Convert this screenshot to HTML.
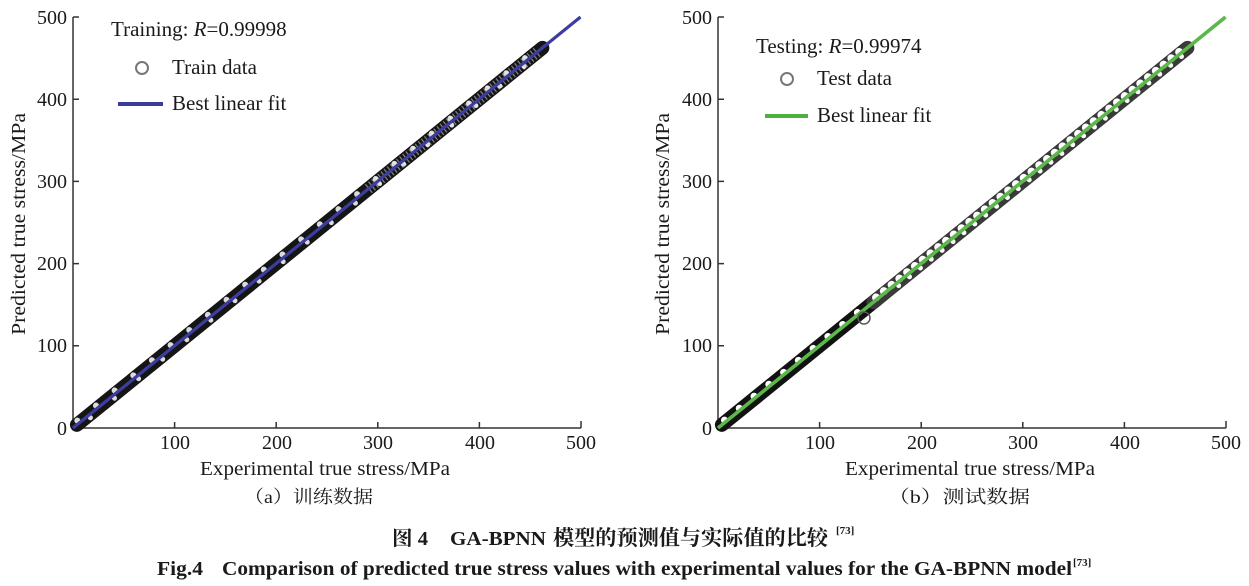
<!DOCTYPE html>
<html><head><meta charset="utf-8"><style>
html,body{margin:0;padding:0;background:#fff;}
svg{display:block;}
text{font-family:"Liberation Serif","Noto Serif CJK SC",serif;fill:#1a1a1a;}
.cj{font-family:"Liberation Serif","Noto Serif CJK SC","Noto Sans CJK SC",serif;}
</style></head><body>
<svg width="1249" height="586" viewBox="0 0 1249 586" xmlns="http://www.w3.org/2000/svg">
<rect width="1249" height="586" fill="#fff"/>

<!-- ============ LEFT PLOT ============ -->
<g stroke="#333" stroke-width="1.5" fill="none">
  <path d="M73,17 V428 H581"/>
  <path d="M73,17 h6 M73,99.2 h6 M73,181.4 h6 M73,263.6 h6 M73,345.8 h6"/>
  <path d="M174.6,428 v-6 M276.2,428 v-6 M377.8,428 v-6 M479.4,428 v-6 M581,428 v-7"/>
</g>
<g font-size="20" text-anchor="end">
  <text x="67" y="24">500</text>
  <text x="67" y="106">400</text>
  <text x="67" y="188">300</text>
  <text x="67" y="270">200</text>
  <text x="67" y="352">100</text>
  <text x="67" y="435">0</text>
</g>
<g font-size="20" text-anchor="middle">
  <text x="175" y="449">100</text>
  <text x="277" y="449">200</text>
  <text x="378" y="449">300</text>
  <text x="480" y="449">400</text>
  <text x="581" y="449">500</text>
  <text x="325" y="475" textLength="250" lengthAdjust="spacingAndGlyphs">Experimental true stress/MPa</text>
</g>
<text x="0" y="0" font-size="20" text-anchor="middle" transform="translate(25,224) rotate(-90)" textLength="222" lengthAdjust="spacingAndGlyphs">Predicted true stress/MPa</text>
<text class="cj" x="244" y="503" font-size="18" textLength="129" lengthAdjust="spacingAndGlyphs">（a）训练数据</text>

<!-- data band left -->
<g transform="translate(73,428) rotate(-39)">
  <line x1="5" y1="0" x2="604" y2="0" stroke="#151515" stroke-width="14" stroke-linecap="round"/>
  <line x1="8" y1="-3" x2="600" y2="-3" stroke="#fff" stroke-width="6" stroke-dasharray="0 24" stroke-linecap="round" opacity="0.85"/>
  <line x1="20" y1="3" x2="600" y2="3" stroke="#fff" stroke-width="5" stroke-dasharray="0 31" stroke-linecap="round" opacity="0.85"/>
  <line x1="380" y1="0" x2="600" y2="0" stroke="#fff" stroke-width="11" stroke-dasharray="1.3 2.7" opacity="0.45"/>
  <line x1="0" y1="0" x2="653" y2="0" stroke="#3d3d9f" stroke-width="3.2"/>
</g>

<!-- legend left -->
<text x="111" y="36" font-size="21">Training: <tspan font-style="italic">R</tspan>=0.99998</text>
<circle cx="142" cy="68" r="6" fill="none" stroke="#777" stroke-width="2"/>
<text x="172" y="74" font-size="21">Train data</text>
<line x1="118" y1="104" x2="163" y2="104" stroke="#3a3a98" stroke-width="4"/>
<text x="172" y="110" font-size="21">Best linear fit</text>

<!-- ============ RIGHT PLOT ============ -->
<g stroke="#333" stroke-width="1.5" fill="none">
  <path d="M718,17 V428 H1226"/>
  <path d="M718,17 h6 M718,99.2 h6 M718,181.4 h6 M718,263.6 h6 M718,345.8 h6"/>
  <path d="M819.6,428 v-6 M921.2,428 v-6 M1022.8,428 v-6 M1124.4,428 v-6 M1226,428 v-7"/>
</g>
<g font-size="20" text-anchor="end">
  <text x="712" y="24">500</text>
  <text x="712" y="106">400</text>
  <text x="712" y="188">300</text>
  <text x="712" y="270">200</text>
  <text x="712" y="352">100</text>
  <text x="712" y="435">0</text>
</g>
<g font-size="20" text-anchor="middle">
  <text x="820" y="449">100</text>
  <text x="922" y="449">200</text>
  <text x="1023" y="449">300</text>
  <text x="1125" y="449">400</text>
  <text x="1226" y="449">500</text>
  <text x="970" y="475" textLength="250" lengthAdjust="spacingAndGlyphs">Experimental true stress/MPa</text>
</g>
<text x="0" y="0" font-size="20" text-anchor="middle" transform="translate(669,224) rotate(-90)" textLength="222" lengthAdjust="spacingAndGlyphs">Predicted true stress/MPa</text>
<text class="cj" x="888" y="503" font-size="18" textLength="142" lengthAdjust="spacingAndGlyphs">（b）测试数据</text>

<!-- data band right -->
<g transform="translate(718,428) rotate(-39)">
  <line x1="5" y1="0" x2="205" y2="0" stroke="#121212" stroke-width="14" stroke-linecap="round"/>
  <line x1="200" y1="0" x2="604" y2="0" stroke="#3a3a3a" stroke-width="14" stroke-linecap="round"/>
  <line x1="10" y1="-2" x2="200" y2="-2" stroke="#fff" stroke-width="7" stroke-dasharray="0 19" stroke-linecap="round"/>
  <line x1="205" y1="-2" x2="600" y2="-2" stroke="#fff" stroke-width="8" stroke-dasharray="0 10" stroke-linecap="round"/>
  <line x1="230" y1="3" x2="600" y2="3" stroke="#fff" stroke-width="5" stroke-dasharray="0 14" stroke-linecap="round"/>
  <line x1="0" y1="0" x2="653" y2="0" stroke="#5db84b" stroke-width="3.6"/>
</g>
<circle cx="864" cy="318" r="6" fill="none" stroke="#555" stroke-width="1.5"/>

<!-- legend right -->
<text x="756" y="53" font-size="21">Testing: <tspan font-style="italic">R</tspan>=0.99974</text>
<circle cx="787" cy="79" r="6" fill="none" stroke="#777" stroke-width="2"/>
<text x="817" y="85" font-size="21">Test data</text>
<line x1="765" y1="116" x2="808" y2="116" stroke="#4caf3e" stroke-width="4"/>
<text x="817" y="122" font-size="21">Best linear fit</text>

<!-- ============ CAPTIONS ============ -->
<g font-weight="bold">
  <text class="cj" x="392" y="545" font-size="20" textLength="36" lengthAdjust="spacingAndGlyphs">图 4</text>
  <text x="450" y="545" font-size="20" textLength="96" lengthAdjust="spacingAndGlyphs">GA-BPNN</text>
  <text class="cj" x="553" y="545" font-size="21" textLength="275" lengthAdjust="spacingAndGlyphs">模型的预测值与实际值的比较</text>
  <text x="836" y="534" font-size="11">[73]</text>
  <text x="157" y="575" font-size="20" textLength="46" lengthAdjust="spacingAndGlyphs">Fig.4</text>
  <text x="222" y="575" font-size="20" textLength="850" lengthAdjust="spacingAndGlyphs">Comparison of predicted true stress values with experimental values for the GA-BPNN model</text>
  <text x="1073" y="566" font-size="11">[73]</text>
</g>
</svg>
</body></html>
